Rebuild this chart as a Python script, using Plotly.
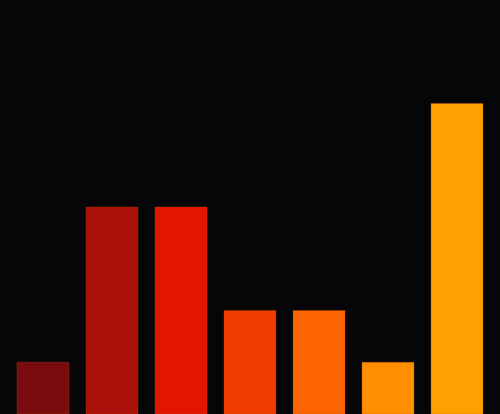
import plotly.graph_objects as go

# datos
categorias = ["A", "B", "C", "D", "E", "F", "G"]
valores = [1, 4, 4, 2, 2, 1, 6]
colores = ["#7a0c0f", "#ab0f0a", "#e31500", "#f03b00", "#fb6400", "#fe9000", "#ffa000"]

fig = go.Figure()

fig.add_trace(go.Bar(
    x=list(range(len(categorias))),
    y=valores,
    marker=dict(color=colores, line=dict(color="rgba(180,80,0,0.6)", width=0.5)),
    width=0.754,
    hoverinfo="skip",
))

fig.update_layout(
    width=500,
    height=414,
    paper_bgcolor="#060608",
    plot_bgcolor="#060608",
    margin=dict(l=0, r=0, t=0, b=0),
    showlegend=False,
    xaxis=dict(range=[-0.623, 6.623], visible=False, fixedrange=True),
    yaxis=dict(range=[0, 8], visible=False, fixedrange=True),
)

# quitar el margen del body para que el gráfico llene la ventana
fig.write_html(
    "out.html",
    config=dict(displayModeBar=False),
    post_script="document.body.style.margin='0'; document.body.style.background='#060608';",
)
